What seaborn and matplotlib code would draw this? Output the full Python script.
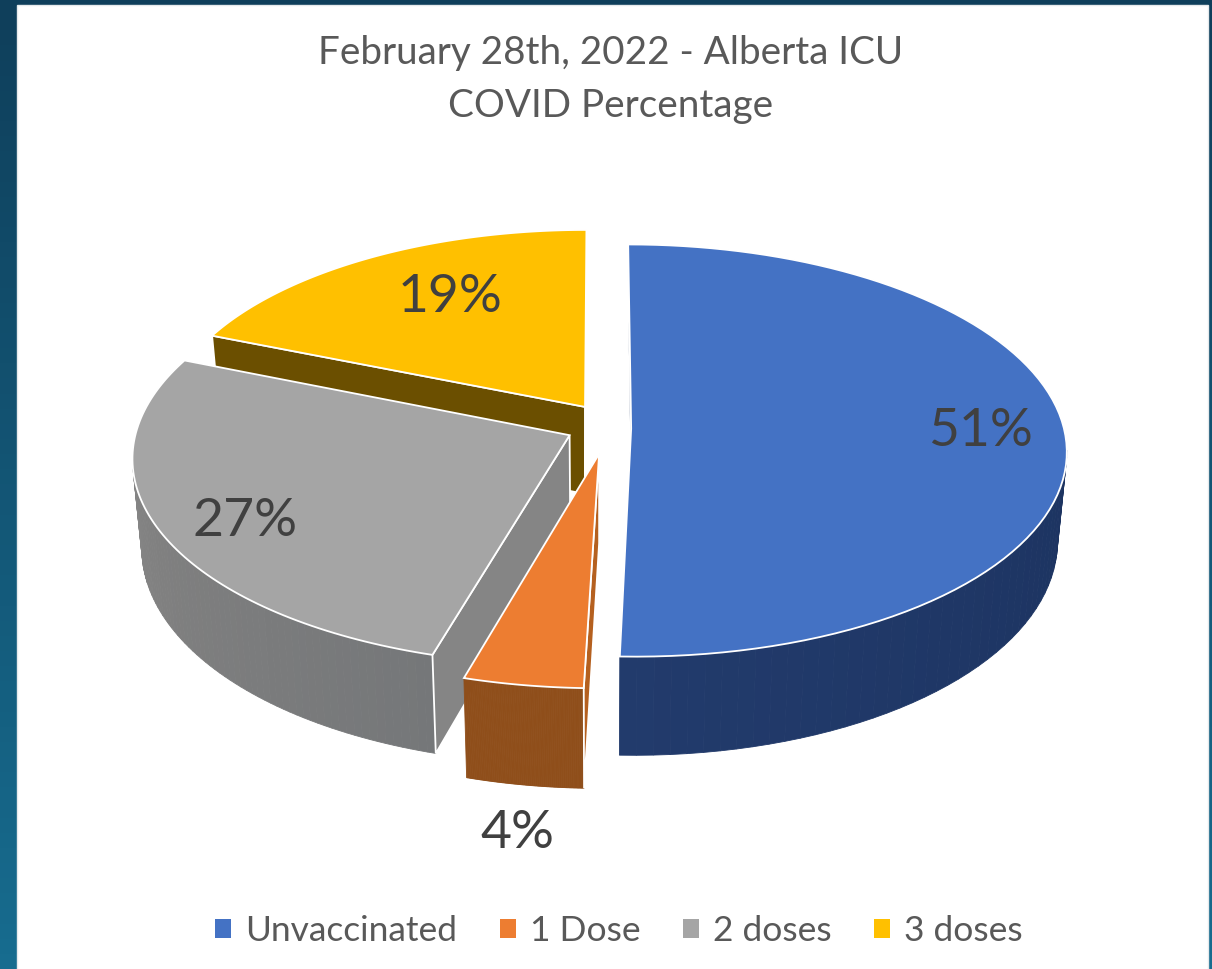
import numpy as np
import matplotlib
matplotlib.use("Agg")
import matplotlib.pyplot as plt
from matplotlib.patches import Patch, Polygon, Rectangle
import seaborn as sns

# Data
categories = ["Unvaccinated", "1 Dose", "2 doses", "3 doses"]
percentages = [51, 4, 27, 19]
title_lines = ["February 28th, 2022 - Alberta ICU", "COVID Percentage"]

# Colours per slice: top, cut face, wall gradient
top_colors = ["#4472C4", "#ED7D31", "#A5A5A5", "#FFC000"]
cut_colors = ["#203864", "#B5601F", "#858585", "#6B4F00"]
wall_colors = [["#1A2E55", "#1C3360", "#223B6C"],
               ["#8F4E1A", "#8F4E1A", "#8F4E1A"],
               ["#757779", "#808080", "#8C8C8C"],
               ["#6B4F00", "#6B4F00", "#6B4F00"]]

sns.set_theme(style="white")
plt.rcParams["font.family"] = ["Lato", "DejaVu Sans"]

W, H = 1212, 969
fig = plt.figure(figsize=(W / 100, H / 100), dpi=100)
ax = fig.add_axes([0, 0, 1, 1])

# Dark teal backdrop and white panel
backdrop = sns.blend_palette(["#0F3F5B", "#176C8F"], 64)
ax.imshow(np.array(backdrop)[:, None, :], extent=(0, W, H, 0), aspect="auto", zorder=0)
ax.add_patch(Rectangle((17, 5), 1191, 970, facecolor="white", edgecolor="#E6EAEC", lw=1, zorder=1))

# Pie view: disc coordinates -> picture pixels, with some perspective
CX, CY, RX, RY = 600, 425, 432, 203
PERSP, DEPTH, LOW_SCALE = 0.106, 88, 0.98

# How far each slice is pulled out, and its radius
explode_u = [0.072, -0.002, -0.07, -0.035]
explode_v = [0.018, 0.14, 0.05, -0.09]
radius = [1, 1, 1, 0.98]


def project(u, v, low=False):
    s = 1 / (1 - PERSP * v)
    if low:
        return CX + RX * u * s * LOW_SCALE, CY + (RY * v + DEPTH) * s
    return CX + RX * u * s, CY + RY * v * s


# Slices start at 12 o'clock and go clockwise
fractions = np.array(percentages) / sum(percentages)
ends = np.cumsum(fractions) * 2 * np.pi
starts = ends - fractions * 2 * np.pi
order = [3, 2, 0, 1]  # back to front

for i in order:
    du, dv, r = explode_u[i], explode_v[i], radius[i]
    ang = np.linspace(starts[i], ends[i], 90)
    disc = [(du, dv)] + [(du + r * np.sin(a), dv - r * np.cos(a)) for a in ang]
    top = [project(u, v) for u, v in disc]
    low = [project(u, v, low=True) for u, v in disc]
    ring = list(range(len(disc))) + [0]
    shades = sns.blend_palette(wall_colors[i], len(disc))
    z = 2 + order.index(i)

    cuts = []
    for a, b in zip(ring[:-1], ring[1:]):
        # only faces whose top edge runs leftwards can be seen
        if top[b][0] >= top[a][0]:
            continue
        quad = [top[a], top[b], low[b], low[a]]
        if a == 0 or b == 0:
            cuts.append(quad)
        else:
            ax.add_patch(Polygon(quad, closed=True, facecolor=shades[a], edgecolor=shades[a], lw=0.6, zorder=z))
    for quad in cuts:
        ax.add_patch(Polygon(quad, closed=True, facecolor=cut_colors[i], edgecolor="white", lw=1.3, zorder=z))
    ax.add_patch(Polygon(top, closed=True, facecolor=top_colors[i], edgecolor="white", lw=1.3, zorder=z))

# Labels
label_xy = [(980, 432), (517, 834), (245, 522), (450, 297)]
for (x, y), pct in zip(label_xy, percentages):
    ax.text(x, y, f"{pct}%", fontsize=38.5, color="#404040", ha="center", va="center", zorder=10)

ax.text(611, 53, title_lines[0], fontsize=27.8, color="#595959", ha="center", va="center", zorder=10)
ax.text(611, 106, title_lines[1], fontsize=27.8, color="#595959", ha="center", va="center", zorder=10)

handles = [Patch(facecolor=c, edgecolor="none", label=n) for c, n in zip(top_colors, categories)]
ax.legend(handles=handles, ncol=4, loc="center", bbox_to_anchor=(619 / W, 1 - 931 / H),
          frameon=False, fontsize=25.5, labelcolor="#595959", handlelength=0.45, handleheight=0.45,
          handletextpad=0.4, columnspacing=1.2)

ax.set_xlim(0, W)
ax.set_ylim(H, 0)
ax.axis("off")
fig.savefig("out.png", dpi=100)
